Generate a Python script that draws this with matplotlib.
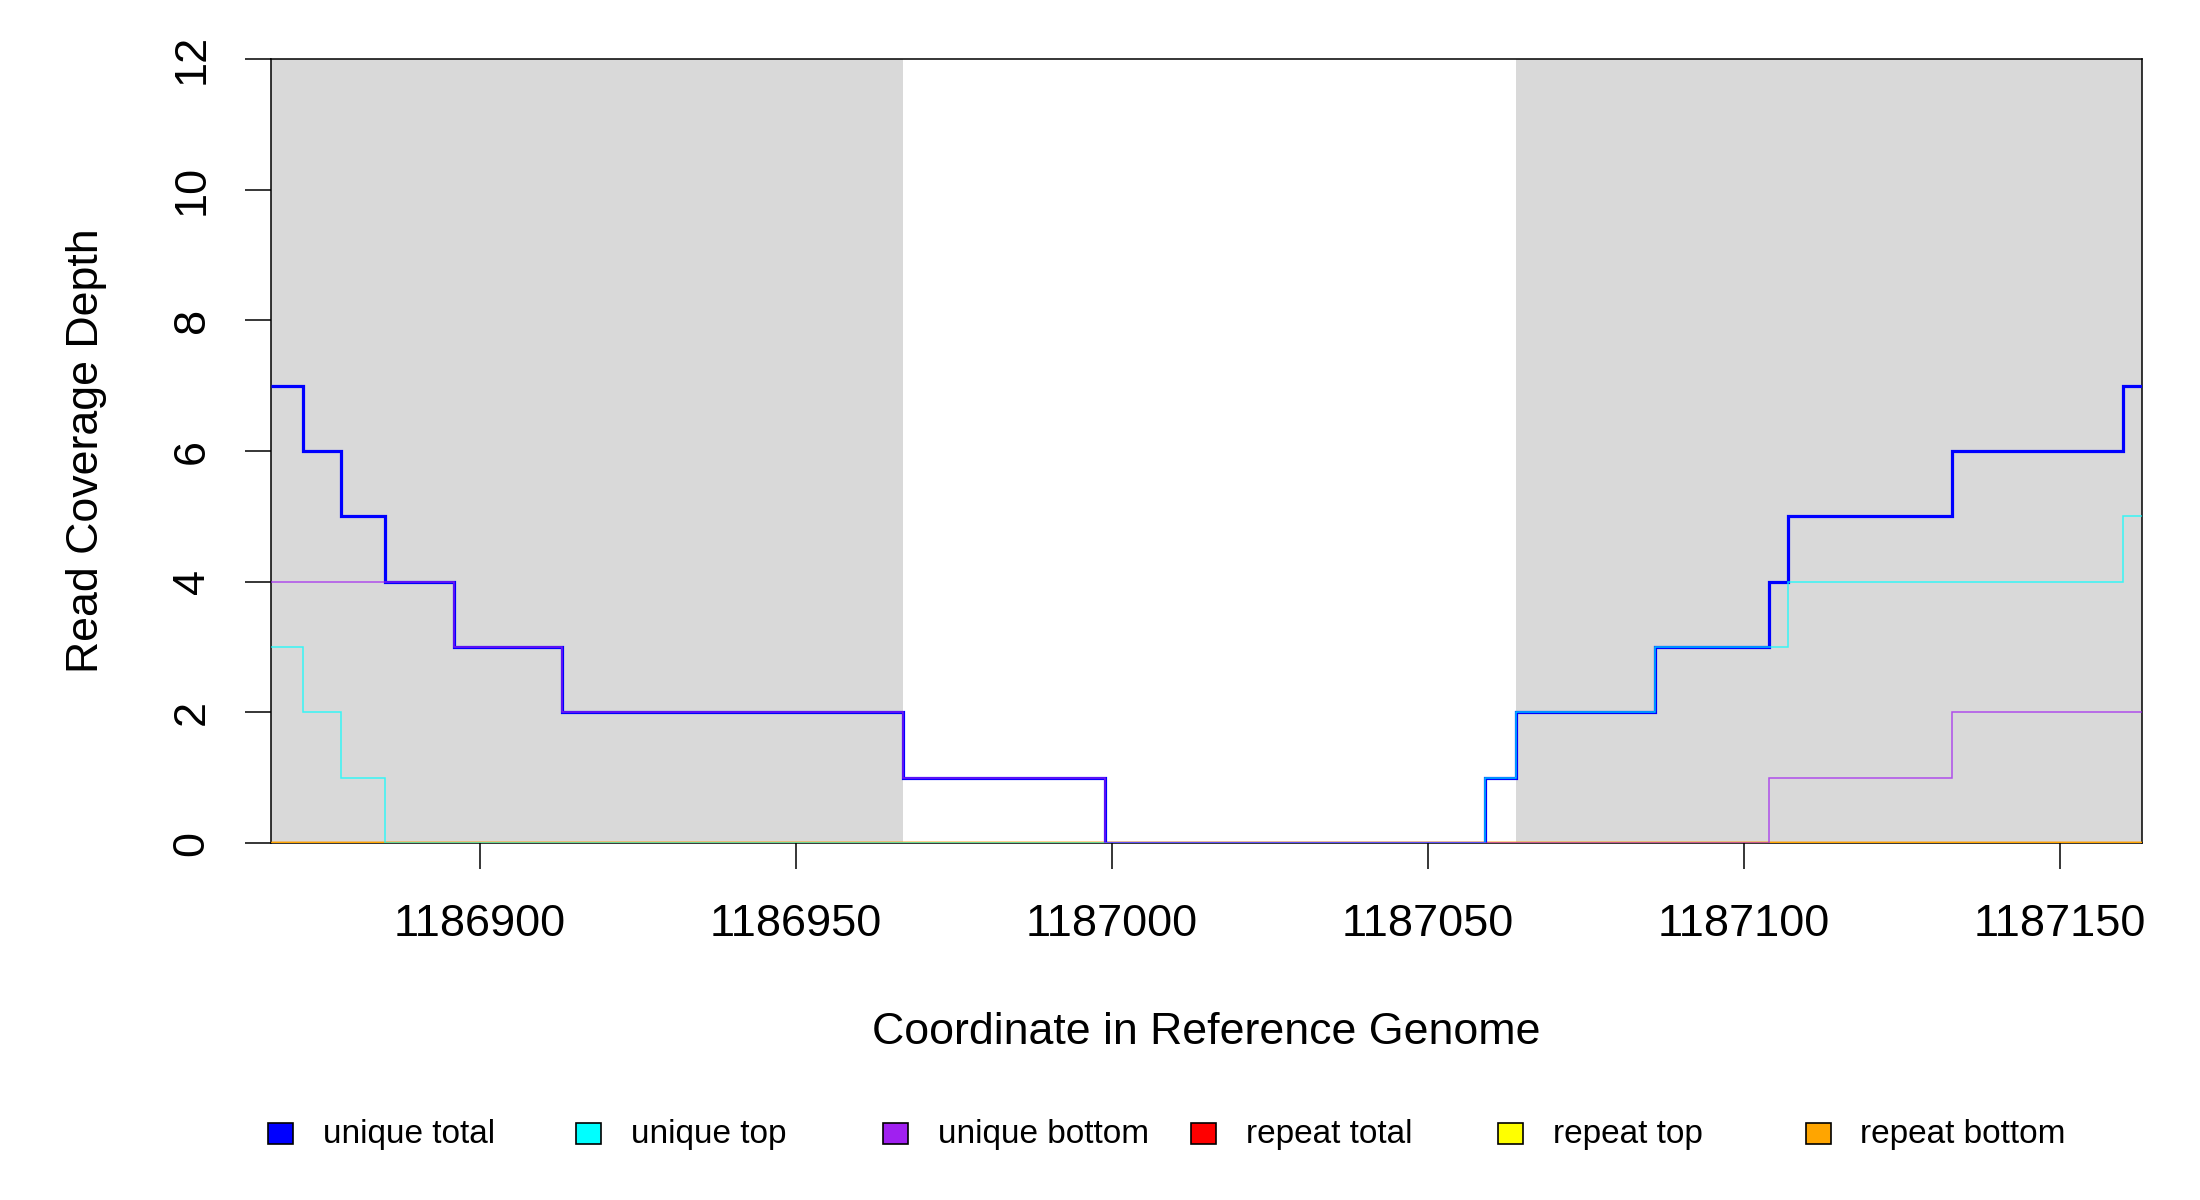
import matplotlib
matplotlib.use("Agg")
import matplotlib.pyplot as plt
from matplotlib.patches import Rectangle

plt.rcParams['font.family'] = ['Liberation Sans', 'DejaVu Sans']

# ---- data ----
x_start = 1186867
x_end = 1187163
shaded_regions = [(1186867, 1186967), (1187064, 1187163)]

unique_total_x = [1186867, 1186872, 1186878, 1186885, 1186896, 1186913, 1186967,
                  1186999, 1187059, 1187064, 1187086, 1187104, 1187107, 1187133, 1187160]
unique_total_y = [7, 6, 5, 4, 3, 2, 1, 0, 1, 2, 3, 4, 5, 6, 7]

unique_top_x = [1186867, 1186872, 1186878, 1186885, 1187059, 1187064, 1187086, 1187107, 1187160]
unique_top_y = [3, 2, 1, 0, 1, 2, 3, 4, 5]

unique_bottom_x = [1186867, 1186896, 1186913, 1186967, 1186999, 1187104, 1187133]
unique_bottom_y = [4, 3, 2, 1, 0, 1, 2]

repeat_total_x = [1186867]
repeat_total_y = [0]
repeat_top_x = [1186867]
repeat_top_y = [0]
repeat_bottom_x = [1186867]
repeat_bottom_y = [0]

series_names = ["unique total", "unique top", "unique bottom",
                "repeat total", "repeat top", "repeat bottom"]
series_colors = ["#0000FF", "#00FFFF", "#A020F0", "#FF0000", "#FFFF00", "#FFA500"]

x_ticks = [1186900, 1186950, 1187000, 1187050, 1187100, 1187150]
y_ticks = [0, 2, 4, 6, 8, 10, 12]

# ---- figure ----
W, H = 2200, 1200
fig = plt.figure(figsize=(22, 12), dpi=100)
left, right, top, bottom = 271 / W, 2142 / W, 59 / H, 843 / H
ax = fig.add_axes([left, 1 - bottom, right - left, bottom - top])

for a, b in shaded_regions:
    ax.axvspan(a, b, color="#D9D9D9", lw=0, zorder=0)

def draw(xs, ys, color, lw, alpha, z):
    ax.stairs(ys, xs + [x_end], baseline=None, color=color, lw=lw, alpha=alpha, zorder=z)

# repeat lines first, then unique lines on top
draw(repeat_total_x, repeat_total_y, series_colors[3], 2.4, 1.0, 12)
draw(repeat_top_x, repeat_top_y, series_colors[4], 2.4, 1.0, 13)
draw(repeat_bottom_x, repeat_bottom_y, series_colors[5], 2.4, 1.0, 14)
draw(unique_total_x, unique_total_y, series_colors[0], 2.3, 1.0, 15)
draw(unique_top_x, unique_top_y, series_colors[1], 1.1, 0.75, 16)
draw(unique_bottom_x, unique_bottom_y, series_colors[2], 1.1, 0.75, 17)

ax.set_xlim(x_start, x_end)
ax.set_ylim(0, 12)
ax.set_xticks(x_ticks)
ax.set_xticklabels([str(v) for v in x_ticks])
ax.set_yticks(y_ticks)
ax.set_yticklabels([str(v) for v in y_ticks])
ax.tick_params(axis='both', length=19, width=1.1, labelsize=32.5, color='black')
ax.tick_params(axis='x', pad=25)
ax.tick_params(axis='y', pad=23, labelrotation=90)
for lab in ax.get_yticklabels():
    lab.set_va('center')
for s in ax.spines.values():
    s.set_linewidth(1.1)
    s.set_color('black')
    s.set_zorder(10)

fig.text(87 / W, 1 - 451 / H, "Read Coverage Depth", rotation=90,
         ha='center', va='center', fontsize=32.2)
fig.text((left + right) / 2, 1 - 1032 / H, "Coordinate in Reference Genome",
         ha='center', va='center', fontsize=32.2)

# legend (R-style, evenly spaced)
for i, (name, col) in enumerate(zip(series_names, series_colors)):
    x0 = 268 + i * 307.5
    fig.patches.append(Rectangle((x0 / W, 1 - 1144 / H), 25 / W, 21 / H,
                                 transform=fig.transFigure, facecolor=col,
                                 edgecolor='black', lw=1.2))
    fig.text((x0 + 55) / W, 1 - 1134 / H, name, ha='left', va='center', fontsize=24)

fig.savefig("out.png", dpi=100)
